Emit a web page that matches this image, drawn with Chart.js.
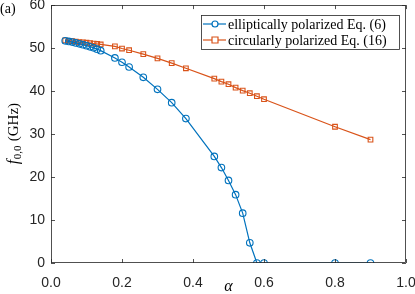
<!DOCTYPE html>
<html>
<head>
<meta charset="utf-8">
<script src="https://cdn.jsdelivr.net/npm/chart.js@4"></script>
<style>
  html, body { margin: 0; padding: 0; background: #fff; }
  #wrap { width: 415px; height: 294px; position: relative; }
</style>
</head>
<body>
<div id="wrap"><canvas id="canvas" width="415" height="294"></canvas></div>
<script>
// values
var alphaEll = [0.04, 0.05, 0.06, 0.07, 0.08, 0.09, 0.10, 0.11, 0.12, 0.13, 0.14,
                0.18, 0.20, 0.22, 0.26, 0.30, 0.34, 0.38,
                0.46, 0.48, 0.50, 0.52, 0.54, 0.56, 0.58, 0.60, 0.80, 0.90]
var fEll = [51.7, 51.55, 51.4, 51.2, 51.0, 50.8, 50.55, 50.3, 50.05, 49.75, 49.4,
            47.7, 46.7, 45.6, 43.2, 40.4, 37.3, 33.6,
            24.8, 22.2, 19.2, 15.9, 11.6, 4.7, 0, 0, 0, 0]

var alphaCirc = [0.04, 0.05, 0.06, 0.07, 0.08, 0.09, 0.10, 0.11, 0.12, 0.13, 0.14,
                 0.18, 0.20, 0.22, 0.26, 0.30, 0.34, 0.38,
                 0.46, 0.48, 0.50, 0.52, 0.54, 0.56, 0.58, 0.60, 0.80, 0.90]
var fCirc = [51.8, 51.7, 51.6, 51.5, 51.4, 51.35, 51.25, 51.15, 51.05, 50.95, 50.85,
             50.4, 49.9, 49.5, 48.6, 47.6, 46.5, 45.3,
             42.9, 42.2, 41.6, 40.8, 40.1, 39.5, 38.8, 38.1, 31.7, 28.7]

var seriesNames = ['elliptically polarized Eq. (6)', 'circularly polarized Eq. (16)']
var xTicks = [0, 0.2, 0.4, 0.6, 0.8, 1.0]
var yTicks = [0, 10, 20, 30, 40, 50, 60]

var blue = '#0072BD'
var orange = '#D95319'
var axisCol = '#262626'

// turn two arrays into {x, y} points
function pts(xs, ys) {
    var out = []
    for (var i = 0; i < xs.length; i++) out.push({ x: xs[i], y: ys[i] })
    return out
}

// box, inward ticks, titles and the legend are drawn here (MATLAB look)
var decor = {
    id: 'decor',
    afterDraw: function (chart) {
        var ctx = chart.ctx
        var a = chart.chartArea
        var xs = chart.scales.x, ys = chart.scales.y
        ctx.save()
        ctx.strokeStyle = axisCol
        ctx.lineWidth = 0.8
        ctx.strokeRect(a.left + 0.5, a.top + 0.5, a.right - a.left - 1, a.bottom - a.top - 1)
        ctx.beginPath()
        xTicks.forEach(function (v) {
            var px = Math.round(xs.getPixelForValue(v)) + 0.5
            ctx.moveTo(px, a.bottom); ctx.lineTo(px, a.bottom - 4)
            ctx.moveTo(px, a.top); ctx.lineTo(px, a.top + 4)
        })
        yTicks.forEach(function (v) {
            var py = Math.round(ys.getPixelForValue(v)) + 0.5
            ctx.moveTo(a.left, py); ctx.lineTo(a.left + 4, py)
            ctx.moveTo(a.right, py); ctx.lineTo(a.right - 4, py)
        })
        ctx.stroke()

        // panel tag
        ctx.fillStyle = '#000'
        ctx.font = '14px "Liberation Serif"'
        ctx.textBaseline = 'middle'
        ctx.textAlign = 'left'
        ctx.fillText('(a)', 0, 9)

        // x title
        ctx.font = 'italic 16px "Liberation Serif"'
        ctx.textAlign = 'center'
        ctx.fillText('α', (a.left + a.right) / 2, 287)

        // y title with subscript
        ctx.save()
        ctx.translate(14, (a.top + a.bottom) / 2)
        ctx.rotate(-Math.PI / 2)
        ctx.textAlign = 'left'
        var p1 = 'f', p2 = '0,0', p3 = ' (GHz)'
        ctx.font = 'italic 16px "Liberation Serif"'
        var w1 = ctx.measureText(p1).width
        ctx.font = '11px "Liberation Serif"'
        var w2 = ctx.measureText(p2).width
        ctx.font = '15px "Liberation Serif"'
        var w3 = ctx.measureText(p3).width
        var x0 = -(w1 + w2 + w3) / 2
        ctx.font = 'italic 16px "Liberation Serif"'
        ctx.fillText(p1, x0, 0)
        ctx.font = '11px "Liberation Serif"'
        ctx.fillText(p2, x0 + w1 + 0.5, 4)
        ctx.font = '15px "Liberation Serif"'
        ctx.fillText(p3, x0 + w1 + w2 + 1, 0)
        ctx.restore()

        // legend
        var lx = 201, ly = 15, lw = 198, lh = 34
        ctx.fillStyle = '#fff'
        ctx.fillRect(lx, ly, lw, lh)
        ctx.strokeStyle = axisCol
        ctx.lineWidth = 0.8
        ctx.strokeRect(lx + 0.5, ly + 0.5, lw, lh)
        var rows = [ly + 9, ly + 25]
        var cols = [blue, orange]
        ctx.font = '14px "Liberation Serif"'
        ctx.textAlign = 'left'
        for (var i = 0; i < 2; i++) {
            ctx.strokeStyle = cols[i]
            ctx.lineWidth = 1.2
            ctx.beginPath()
            ctx.moveTo(lx + 2, rows[i]); ctx.lineTo(lx + 25, rows[i])
            ctx.stroke()
            ctx.beginPath()
            if (i == 0) ctx.arc(lx + 14, rows[i], 3, 0, Math.PI * 2)
            else ctx.rect(lx + 11, rows[i] - 3, 6, 6)
            ctx.fillStyle = '#fff'
            ctx.fill()
            ctx.stroke()
            ctx.fillStyle = '#000'
            ctx.fillText(seriesNames[i], lx + 27, rows[i] + 1)
        }
        ctx.restore()
    }
}

var canvas = document.getElementById('canvas').getContext('2d')

var config = {
    type: 'line',
    data: {
        datasets: [{
            label: seriesNames[0],
            data: pts(alphaEll, fEll),
            borderColor: blue,
            backgroundColor: 'rgba(0,0,0,0)',
            borderWidth: 1.2,
            pointStyle: 'circle',
            pointRadius: 3.3,
            pointBorderWidth: 1.1,
            pointBorderColor: blue,
            pointBackgroundColor: 'rgba(0,0,0,0)',
            tension: 0
        }, {
            label: seriesNames[1],
            data: pts(alphaCirc, fCirc),
            borderColor: orange,
            backgroundColor: 'rgba(0,0,0,0)',
            borderWidth: 1.2,
            pointStyle: 'rect',
            pointRadius: 3.3,
            pointBorderWidth: 1.1,
            pointBorderColor: orange,
            pointBackgroundColor: 'rgba(0,0,0,0)',
            tension: 0
        }]
    },
    options: {
        responsive: false,
        animation: false,
        layout: { padding: { left: 0, right: 9, top: 5, bottom: 0 } },
        plugins: { legend: { display: false }, tooltip: { enabled: false } },
        scales: {
            x: {
                type: 'linear', min: 0, max: 1,
                afterBuildTicks: function (s) { s.ticks = xTicks.map(function (v) { return { value: v } }) },
                // fixed height, and no extra room for the end labels
                afterFit: function (s) { s.height = 31; s.paddingLeft = 0; s.paddingRight = 0 },
                grid: { display: false, drawTicks: false },
                border: { display: false },
                ticks: {
                    padding: 12, color: axisCol,
                    font: { family: 'Liberation Sans', size: 14 },
                    callback: function (v) { return v.toFixed(1) }
                }
            },
            y: {
                type: 'linear', min: 0, max: 60,
                afterBuildTicks: function (s) { s.ticks = yTicks.map(function (v) { return { value: v } }) },
                afterFit: function (s) { s.width = 51; s.paddingTop = 0; s.paddingBottom = 0 },
                grid: { display: false, drawTicks: false },
                border: { display: false },
                ticks: {
                    padding: 6, color: axisCol,
                    font: { family: 'Liberation Sans', size: 14 }
                }
            }
        }
    },
    plugins: [decor]
}

var myChart = new Chart(canvas, config)
</script>
</body>
</html>
